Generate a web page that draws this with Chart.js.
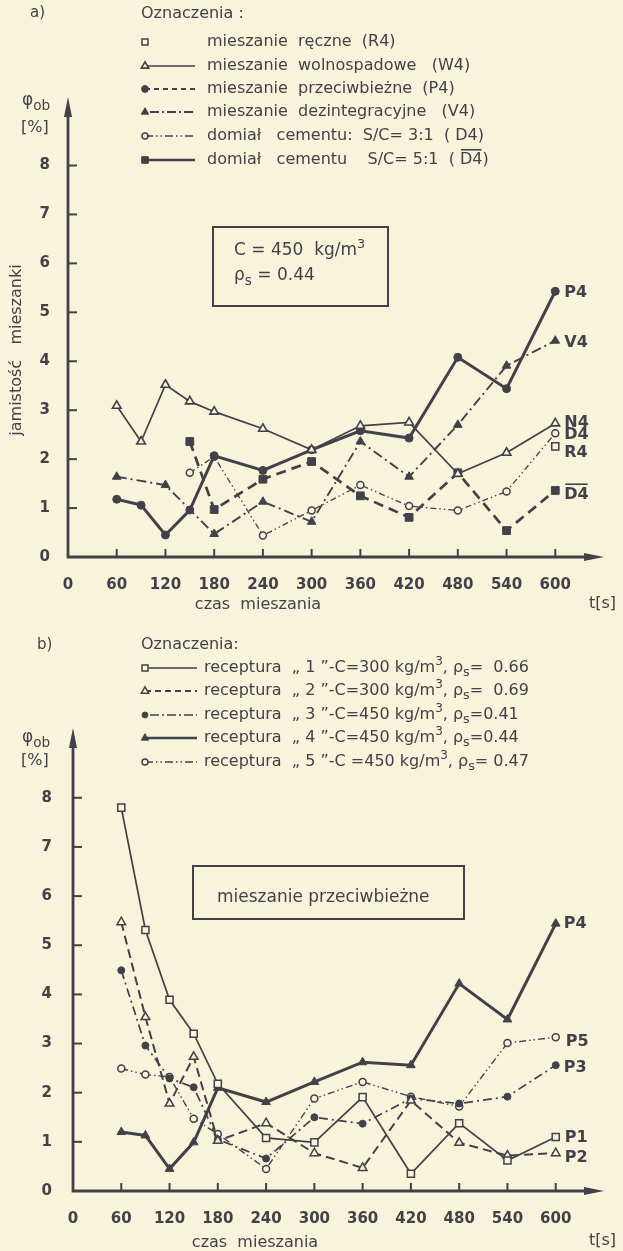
<!DOCTYPE html>
<html>
<head>
<meta charset="utf-8">
<script src="https://cdn.jsdelivr.net/npm/chart.js@4.4.1/dist/chart.umd.min.js"></script>
<style>
  html, body { margin: 0; padding: 0; background: #f8f4dc; }
  .panel { position: absolute; left: 0; width: 623px; }
  #pa { top: 0; height: 625px; }
  #pb { top: 625px; height: 626px; }
</style>
</head>
<body>
<div class="panel" id="pa"><canvas id="chartA"></canvas></div>
<div class="panel" id="pb"><canvas id="chartB"></canvas></div>
<script>
// mixing time [s]
const times = [60, 90, 120, 150, 180, 240, 300, 360, 420, 480, 540, 600];
const xTickLabels = ['0', '60', '120', '180', '240', '300', '360', '420', '480', '540', '600'];
const yTickLabels = ['0', '1', '2', '3', '4', '5', '6', '7', '8'];

// a) C = 450 kg/m3, rho_s = 0.44  (air content, %)
const r4    = [null, null, null, null, null, null, null, null, null, null, null, 2.26];
const w4    = [3.09, 2.36, 3.52, 3.18, 2.97, 2.62, 2.19, 2.68, 2.75, 1.70, 2.13, 2.73];
const p4a   = [1.18, 1.06, 0.45, 0.96, 2.07, 1.77, 2.19, 2.58, 2.43, 4.08, 3.44, 5.43];
const v4    = [1.64, null, 1.47, null, 0.47, 1.13, 0.72, 2.36, 1.64, 2.70, 3.91, 4.42];
const d4    = [null, null, null, 1.72, 2.05, 0.44, 0.95, 1.47, 1.04, 0.95, 1.34, 2.53];
const d4bar = [null, null, null, 2.36, 0.97, 1.59, 1.95, 1.25, 0.81, 1.72, 0.54, 1.36];

// b) mieszanie przeciwbiezne, recipes 1..5
const p1 = [7.80, 5.31, 3.89, 3.20, 2.18, 1.08, 0.99, 1.91, 0.35, 1.38, 0.62, 1.10];
const p2 = [5.47, 3.54, 1.78, 2.73, 1.02, 1.38, 0.77, 0.47, 1.84, 0.98, 0.72, 0.77];
const p3 = [4.49, 2.96, 2.29, 2.11, 1.05, 0.66, 1.50, 1.37, 1.88, 1.78, 1.92, 2.56];
const p4b = [1.20, 1.13, 0.45, 0.99, 2.10, 1.81, 2.22, 2.62, 2.56, 4.22, 3.49, 5.44];
const p5 = [2.49, 2.37, 2.32, 1.47, 1.16, 0.45, 1.88, 2.22, 1.92, 1.72, 3.01, 3.13];

const legendA = [
  'mieszanie  ręczne  (R4)',
  'mieszanie  wolnospadowe   (W4)',
  'mieszanie  przeciwbieżne  (P4)',
  'mieszanie  dezintegracyjne   (V4)',
  'domiał   cementu:  S/C= 3:1  ( D4)',
  'domiał   cementu    S/C= 5:1  ( ~{D4})'
];
const endLabelsA = ['R4', 'N4', 'P4', 'V4', 'D4', '~{D4}'];

const legendB = [
  'receptura  „ 1 ”-C=300 kg/m^{3}, ρ_{s}=  0.66',
  'receptura  „ 2 ”-C=300 kg/m^{3}, ρ_{s}=  0.69',
  'receptura  „ 3 ”-C=450 kg/m^{3}, ρ_{s}=0.41',
  'receptura  „ 4 ”-C=450 kg/m^{3}, ρ_{s}=0.44',
  'receptura  „ 5 ”-C =450 kg/m^{3}, ρ_{s}= 0.47'
];
const endLabelsB = ['P1', 'P2', 'P3', 'P4', 'P5'];

const ink = '#424149';
const paperBg = '#f8f4dc';
const fnt = (s, w) => (w || 'normal') + ' ' + s + 'px "DejaVu Sans", sans-serif';

const mk = vals => times.map((t, i) => ({ x: t, y: vals[i] })).filter(p => p.y !== null);

// text with _{sub}, ^{sup} and ~{overline}
function rich(ctx, str, x, y, size, align, weight) {
  const parts = str.split(/(_\{[^}]*\}|\^\{[^}]*\}|~\{[^}]*\})/).filter(Boolean);
  const segs = parts.map(p => {
    let t = p, dy = 0, s = size, over = false;
    if (p.startsWith('_{')) { t = p.slice(2, -1); dy = size * 0.32; s = size * 0.8; }
    else if (p.startsWith('^{')) { t = p.slice(2, -1); dy = -size * 0.4; s = size * 0.75; }
    else if (p.startsWith('~{')) { t = p.slice(2, -1); over = true; }
    ctx.font = fnt(s, weight);
    return { t, dy, s, over, w: ctx.measureText(t).width };
  });
  const total = segs.reduce((a, g) => a + g.w, 0);
  let cx = align === 'center' ? x - total / 2 : align === 'right' ? x - total : x;
  ctx.textAlign = 'left';
  ctx.textBaseline = 'middle';
  segs.forEach(g => {
    ctx.font = fnt(g.s, weight);
    ctx.fillText(g.t, cx, y + g.dy);
    if (g.over) {
      ctx.save();
      ctx.lineWidth = 1.6;
      ctx.beginPath();
      ctx.moveTo(cx + 1, y - g.s * 0.64);
      ctx.lineTo(cx + g.w - 1, y - g.s * 0.64);
      ctx.stroke();
      ctx.restore();
    }
    cx += g.w;
  });
}

function paper(cfg) {
  return {
    id: 'paper',
    beforeDatasetsDraw(chart) {
      const { ctx, chartArea: a, scales: { x, y } } = chart;
      const x0 = x.getPixelForValue(0), y0 = y.getPixelForValue(0);
      ctx.save();
      ctx.strokeStyle = ink;
      ctx.fillStyle = ink;
      ctx.lineWidth = 2.8;
      ctx.beginPath();
      ctx.moveTo(x0, a.top + 12);
      ctx.lineTo(x0, y0);
      ctx.lineTo(a.right - 12, y0);
      ctx.stroke();
      ctx.beginPath();
      ctx.moveTo(x0, a.top);
      ctx.lineTo(x0 - 4, a.top + 20);
      ctx.lineTo(x0 + 4, a.top + 20);
      ctx.closePath();
      ctx.fill();
      ctx.beginPath();
      ctx.moveTo(a.right, y0);
      ctx.lineTo(a.right - 20, y0 - 4);
      ctx.lineTo(a.right - 20, y0 + 4);
      ctx.closePath();
      ctx.fill();
      ctx.lineWidth = 2;
      yTickLabels.forEach(l => {
        const v = Number(l);
        if (!v) return;
        const py = y.getPixelForValue(v);
        ctx.beginPath(); ctx.moveTo(x0, py); ctx.lineTo(x0 + 9, py); ctx.stroke();
      });
      xTickLabels.forEach(l => {
        const v = Number(l);
        if (!v) return;
        const px = x.getPixelForValue(v);
        ctx.beginPath(); ctx.moveTo(px, y0); ctx.lineTo(px, y0 - 8); ctx.stroke();
      });
      ctx.restore();
    },
    afterDraw(chart) {
      const { ctx, scales: { x, y } } = chart;
      ctx.save();
      ctx.fillStyle = ink;
      ctx.strokeStyle = ink;
      rich(ctx, cfg.tag, cfg.tagPos[0], cfg.tagPos[1], 15);
      rich(ctx, 'Oznaczenia' + cfg.colon, cfg.headPos[0], cfg.headPos[1], 16);

      // legend
      chart.data.datasets.forEach((ds, i) => {
        const ly = cfg.legendY[i];
        const sx = cfg.sampleX;
        const dash = cfg.legendDash[i];
        if (dash) {
          ctx.save();
          ctx.lineWidth = cfg.legendWidth[i];
          ctx.setLineDash(dash);
          ctx.beginPath(); ctx.moveTo(sx, ly); ctx.lineTo(sx + cfg.sampleLen, ly); ctx.stroke();
          ctx.restore();
        }
        ctx.save();
        ctx.lineWidth = ds.pointBorderWidth || 1.5;
        ctx.fillStyle = ds.pointBackgroundColor;
        ctx.strokeStyle = ink;
        Chart.helpers.drawPoint(ctx, { pointStyle: ds.pointStyle, radius: ds.pointRadius * 0.85, rotation: 0, borderWidth: 1.5 }, sx, ly);
        ctx.restore();
        rich(ctx, cfg.legend[i], cfg.textX, ly, 16);
      });

      // y axis title
      rich(ctx, 'φ_{ob}', cfg.phiPos[0], cfg.phiPos[1], 17);
      rich(ctx, '[%]', cfg.pctPos[0], cfg.pctPos[1], 16);
      if (cfg.rotated) {
        ctx.save();
        ctx.translate(cfg.rotated.x, cfg.rotated.y);
        ctx.rotate(-Math.PI / 2);
        rich(ctx, cfg.rotated.text, 0, 0, 16, 'center');
        ctx.restore();
      }
      // x axis title
      rich(ctx, 'czas  mieszania', cfg.xTitle[0], cfg.xTitle[1], 16, 'center');
      rich(ctx, 't[s]', cfg.tPos[0], cfg.tPos[1], 16);

      // box
      const b = cfg.box;
      ctx.lineWidth = 2;
      ctx.strokeRect(b.x, b.y, b.w, b.h);
      b.lines.forEach(ln => rich(ctx, ln[0], ln[1], ln[2], 17));

      // end labels
      chart.data.datasets.forEach((ds, i) => {
        const last = ds.data[ds.data.length - 1];
        const off = cfg.endOff[i];
        rich(ctx, cfg.endLabels[i], x.getPixelForValue(last.x) + off[0], y.getPixelForValue(last.y) + off[1], 16, 'left', 'bold');
      });
      ctx.restore();
    }
  };
}

function baseOptions(padRight, padTop, yWidth, xHeight, yMax, yPad) {
  return {
    responsive: true,
    maintainAspectRatio: false,
    animation: false,
    layout: { padding: { top: padTop, right: padRight, left: 0, bottom: 0 } },
    plugins: { legend: { display: false }, tooltip: { enabled: false } },
    scales: {
      x: {
        type: 'linear', min: 0, max: 660,
        grid: { display: false, drawTicks: false },
        border: { display: false },
        ticks: {
          stepSize: 60, padding: 19, color: ink, font: { family: 'DejaVu Sans', size: 15, weight: 'bold' },
          maxRotation: 0, autoSkip: false,
          callback: v => xTickLabels[v / 60] || ''
        },
        afterFit: s => { s.height = xHeight; }
      },
      y: {
        type: 'linear', min: 0, max: yMax,
        grid: { display: false, drawTicks: false },
        border: { display: false },
        ticks: {
          stepSize: 1, padding: yPad, color: ink, font: { family: 'DejaVu Sans', size: 15, weight: 'bold' },
          autoSkip: false,
          callback: v => yTickLabels[v] || ''
        },
        afterFit: s => { s.width = yWidth; }
      }
    }
  };
}

const common = { borderColor: ink, pointBorderColor: ink, fill: false, tension: 0, spanGaps: true };

new Chart(document.getElementById('chartA'), {
  type: 'line',
  data: {
    datasets: [
      { ...common, label: 'R4', data: mk(r4), showLine: false, pointStyle: 'rect', pointRadius: 5, pointBorderWidth: 1.5, pointBackgroundColor: paperBg },
      { ...common, label: 'W4', data: mk(w4), borderWidth: 1.7, pointStyle: 'triangle', pointRadius: 5, pointBorderWidth: 1.6, pointBackgroundColor: paperBg },
      { ...common, label: 'P4', data: mk(p4a), borderWidth: 3, pointStyle: 'circle', pointRadius: 4, pointBorderWidth: 1, pointBackgroundColor: ink },
      { ...common, label: 'V4', data: mk(v4), borderWidth: 1.9, borderDash: [10, 4, 2, 4], pointStyle: 'triangle', pointRadius: 5, pointBorderWidth: 1, pointBackgroundColor: ink },
      { ...common, label: 'D4', data: mk(d4), borderWidth: 1.3, borderDash: [6, 3, 1.5, 3, 1.5, 3], pointStyle: 'circle', pointRadius: 3.5, pointBorderWidth: 1.5, pointBackgroundColor: paperBg },
      { ...common, label: 'D̄4', data: mk(d4bar), borderWidth: 2.7, borderDash: [10, 6], pointStyle: 'rect', pointRadius: 5.5, pointBorderWidth: 1, pointBackgroundColor: ink }
    ]
  },
  options: baseOptions(19, 97, 68, 68, 9.4, 18),
  plugins: [paper({
    tag: 'a)', tagPos: [30, 13], colon: ' :', headPos: [141, 14],
    legend: legendA, legendY: [42, 66, 89, 112, 136, 160],
    legendDash: [null, [], [5, 4], [2, 3, 9, 3], [8, 3, 1.5, 3, 1.5, 3], []],
    legendWidth: [0, 1.7, 1.9, 1.9, 1.4, 2.5],
    sampleX: 145, sampleLen: 50, textX: 207,
    phiPos: [22, 101], pctPos: [21, 128],
    rotated: { x: 17, y: 350, text: 'jamistość   mieszanki' },
    xTitle: [258, 605], tPos: [589, 604],
    box: { x: 213, y: 227, w: 175, h: 79, lines: [['C = 450  kg/m^{3}', 234, 251], ['ρ_{s} = 0.44', 234, 276]] },
    endLabels: endLabelsA,
    endOff: [[9, 6], [9, -1], [9, 2], [9, 2], [9, 2], [9, 4]]
  })]
});

new Chart(document.getElementById('chartB'), {
  type: 'line',
  data: {
    datasets: [
      { ...common, label: 'P1', data: mk(p1), borderWidth: 1.7, pointStyle: 'rect', pointRadius: 5, pointBorderWidth: 1.5, pointBackgroundColor: paperBg },
      { ...common, label: 'P2', data: mk(p2), borderWidth: 2, borderDash: [9, 5], pointStyle: 'triangle', pointRadius: 5, pointBorderWidth: 1.5, pointBackgroundColor: paperBg },
      { ...common, label: 'P3', data: mk(p3), borderWidth: 1.7, borderDash: [9, 4, 2, 4], pointStyle: 'circle', pointRadius: 3.5, pointBorderWidth: 1, pointBackgroundColor: ink },
      { ...common, label: 'P4', data: mk(p4b), borderWidth: 3, pointStyle: 'triangle', pointRadius: 5, pointBorderWidth: 1, pointBackgroundColor: ink },
      { ...common, label: 'P5', data: mk(p5), borderWidth: 1.4, borderDash: [7, 3, 1.5, 3, 1.5, 3], pointStyle: 'circle', pointRadius: 3.5, pointBorderWidth: 1.5, pointBackgroundColor: paperBg }
    ]
  },
  options: baseOptions(10, 103, 73, 60, 9.42, 21),
  plugins: [paper({
    tag: 'b)', tagPos: [37, 20], colon: ':', headPos: [141, 20],
    legend: legendB, legendY: [43, 66, 90, 113, 137],
    legendDash: [[], [6, 4], [2, 3, 9, 3], [], [8, 3, 1.5, 3, 1.5, 3]],
    legendWidth: [1.7, 1.9, 1.7, 2.5, 1.4],
    sampleX: 145, sampleLen: 52, textX: 204,
    phiPos: [22, 113], pctPos: [21, 136],
    rotated: null,
    xTitle: [255, 618], tPos: [589, 616],
    box: { x: 193, y: 241, w: 271, h: 53, lines: [['mieszanie przeciwbieżne', 217, 273]] },
    endLabels: endLabelsB,
    endOff: [[9, 1], [9, 5], [8, 3], [8, 0], [10, 5]]
  })]
});
</script>
</body>
</html>
